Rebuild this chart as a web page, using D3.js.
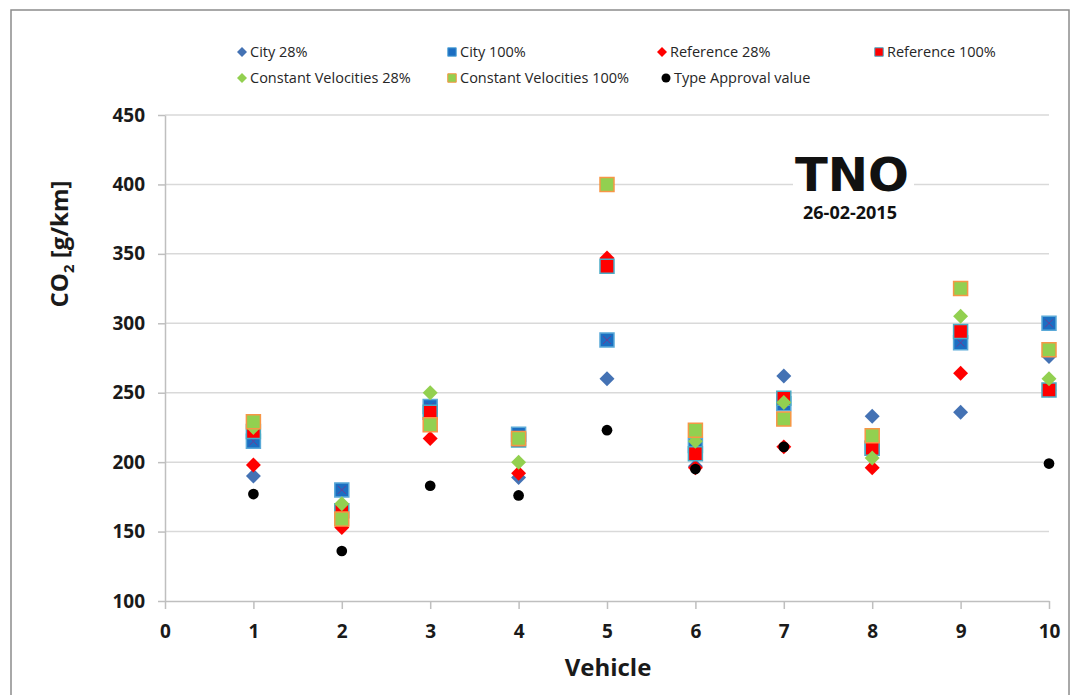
<!DOCTYPE html>
<html lang="en">
<head>
<meta charset="UTF-8">
<title>CO2 per vehicle</title>
<script src="https://cdn.jsdelivr.net/npm/d3@7"></script>
<style>
  body { margin: 0; background: #fff; }
  text { font-family: "Open Sans", sans-serif; }
</style>
</head>
<body>
<div id="chart"></div>
<script>
// values, g/km
const vehicles = [1, 2, 3, 4, 5, 6, 7, 8, 9, 10]
const city28 = [190, 167, 232, 189, 260, 197, 262, 233, 236, 276]
const city100 = [215, 180, 240, 220, 288, 212, 242, 210, 286, 300]
const reference28 = [198, 153, 217, 192, 347, 196, 211, 196, 264, 252]
const reference100 = [222, 165, 236, 216, 341, 206, 246, 210, 294, 252]
const constVel28 = [225, 170, 250, 200, 400, 215, 243, 203, 305, 260]
const constVel100 = [229, 159, 227, 217, 400, 223, 231, 219, 325, 281]
const typeApproval = [177, 136, 183, 176, 223, 195, 211, null, null, 199]

const xTicks = [0, 1, 2, 3, 4, 5, 6, 7, 8, 9, 10]
const yTicks = [100, 150, 200, 250, 300, 350, 400, 450]

const w = 1075
const h = 695
const margin = {top: 115, right: 26, bottom: 94, left: 165}

// excel style diamond: a square turned 45 degrees
const diamond = {
    draw(ctx, size) {
        const r = Math.sqrt(size / 2)
        ctx.moveTo(0, -r)
        ctx.lineTo(r, 0)
        ctx.lineTo(0, r)
        ctx.lineTo(-r, 0)
        ctx.closePath()
    }
}

const series = [
    {name: "City 28%", values: city28, shape: diamond, fill: "#4472b4", stroke: "none"},
    {name: "City 100%", values: city100, shape: d3.symbolSquare, fill: "#1b6ec2", stroke: "#5aa9d8", cross: true},
    {name: "Reference 28%", values: reference28, shape: diamond, fill: "#ff0000", stroke: "none"},
    {name: "Reference 100%", values: reference100, shape: d3.symbolSquare, fill: "#ff0000", stroke: "#4bacc6"},
    {name: "Constant Velocities 28%", values: constVel28, shape: diamond, fill: "#92d050", stroke: "none"},
    {name: "Constant Velocities 100%", values: constVel100, shape: d3.symbolSquare, fill: "#92d050", stroke: "#f79646"},
    {name: "Type Approval value", values: typeApproval, shape: d3.symbolCircle, fill: "#000000", stroke: "none"}
]

const markerSize = {diamond: 112, square: 196, circle: 90}
const legendSize = {diamond: 50, square: 72, circle: 64}
function kind(s) {
    if (s.shape === diamond) return "diamond"
    if (s.shape === d3.symbolSquare) return "square"
    return "circle"
}

const svg = d3.select("#chart")
    .append("svg")
    .attr("width", w)
    .attr("height", h)

// outer frame of the chart object
svg.append("rect")
    .attr("x", 11)
    .attr("y", 10)
    .attr("width", 1058)
    .attr("height", 720)
    .attr("fill", "#fff")
    .attr("stroke", "#8c8c8c")
    .attr("stroke-width", 1.5)

const xScale = d3.scaleLinear()
    .domain([0, 10])
    .range([margin.left, w - margin.right])

const yScale = d3.scaleLinear()
    .domain([100, 450])
    .range([h - margin.bottom, margin.top])

// gridlines
svg.append("g")
    .selectAll("line")
    .data(yTicks.filter(d => d > 100))
    .enter()
    .append("line")
    .attr("x1", xScale(0))
    .attr("x2", xScale(10))
    .attr("y1", d => yScale(d))
    .attr("y2", d => yScale(d))
    .attr("stroke", "#d9d9d9")
    .attr("stroke-width", 1.5)

const xAxis = d3.axisBottom(xScale)
    .tickValues(xTicks)
    .tickFormat(d3.format("d"))
    .tickSize(8)
    .tickSizeOuter(0)
    .tickPadding(16)

const gx = svg.append("g")
    .attr("transform", `translate(0, ${yScale(100)})`)
    .call(xAxis)

const yAxis = d3.axisLeft(yScale)
    .tickValues(yTicks)
    .tickSize(7)
    .tickSizeOuter(0)
    .tickPadding(13)

const gy = svg.append("g")
    .attr("transform", `translate(${xScale(0)}, 0)`)
    .call(yAxis)

for (const g of [gx, gy]) {
    g.select(".domain").attr("stroke", "#bfbfbf").attr("stroke-width", 1.5)
    g.selectAll(".tick line").attr("stroke", "#bfbfbf").attr("stroke-width", 1.5)
    g.selectAll(".tick text")
        .attr("fill", "#1a1a1a")
        .style("font-family", "'Open Sans', sans-serif")
        .style("font-size", "19px")
        .style("font-weight", "bold")
}

// axis titles
const yLabel = svg.append("text")
    .attr("transform", "translate(68, 244) rotate(-90)")
    .attr("text-anchor", "middle")
    .attr("fill", "#1a1a1a")
    .style("font-size", "24px")
    .style("font-weight", "bold")
yLabel.append("tspan").text("CO")
yLabel.append("tspan").attr("dy", 6).style("font-size", "15px").text("2")
yLabel.append("tspan").attr("dy", -6).text(" [g/km]")

svg.append("text")
    .attr("x", 608)
    .attr("y", 676)
    .attr("text-anchor", "middle")
    .attr("fill", "#1a1a1a")
    .style("font-size", "24px")
    .style("font-weight", "bold")
    .text("Vehicle")

// TNO stamp, white box breaks the 400 gridline
svg.append("rect")
    .attr("x", 793)
    .attr("y", 150)
    .attr("width", 121)
    .attr("height", 46)
    .attr("fill", "#fff")

svg.append("text")
    .attr("x", 795)
    .attr("y", 191)
    .attr("textLength", 114)
    .attr("lengthAdjust", "spacingAndGlyphs")
    .attr("fill", "#111")
    .style("font-family", "'DejaVu Sans', sans-serif")
    .style("font-size", "46px")
    .style("font-weight", "bold")
    .text("TNO")

svg.append("text")
    .attr("x", 850)
    .attr("y", 219)
    .attr("text-anchor", "middle")
    .attr("fill", "#111")
    .style("font-size", "18px")
    .style("font-weight", "bold")
    .text("26-02-2015")

// points, series in excel order so later ones sit on top
series.forEach(s => {
    const pts = vehicles
        .map((v, i) => ({x: v, y: s.values[i]}))
        .filter(d => d.y != null)

    const g = svg.append("g").attr("class", "series")
    g.selectAll("path.mark")
        .data(pts)
        .enter()
        .append("path")
        .attr("class", "mark")
        .attr("transform", d => `translate(${xScale(d.x)}, ${yScale(d.y)})`)
        .attr("d", d3.symbol().type(s.shape).size(markerSize[kind(s)]))
        .attr("fill", s.fill)
        .attr("stroke", s.stroke)
        .attr("stroke-width", 1.5)

    if (s.cross) {
        g.selectAll("path.cross")
            .data(pts)
            .enter()
            .append("path")
            .attr("class", "cross")
            .attr("transform", d => `translate(${xScale(d.x)}, ${yScale(d.y)})`)
            .attr("d", "M-4,-4L4,4M-4,4L4,-4")
            .attr("stroke", "#6b3d96")
            .attr("stroke-width", 1)
            .attr("fill", "none")
    }
})

// legend
const legendCols = [242, 452, 662, 879]
const legendRows = [52, 78]
const legendPos = [[0, 0], [1, 0], [2, 0], [3, 0], [0, 1], [1, 1], [2, 1]]

const legend = svg.append("g")
series.forEach((s, i) => {
    const [c, r] = legendPos[i]
    const mx = legendCols[c] + (kind(s) === "circle" ? 4 : 0)
    const my = legendRows[r]
    legend.append("path")
        .attr("transform", `translate(${mx}, ${my})`)
        .attr("d", d3.symbol().type(s.shape).size(legendSize[kind(s)]))
        .attr("fill", s.fill)
        .attr("stroke", s.stroke)
        .attr("stroke-width", 1)
    legend.append("text")
        .attr("x", mx + 8)
        .attr("y", my + 5)
        .attr("fill", "#262626")
        .style("font-size", "14.5px")
        .text(s.name)
})
</script>
</body>
</html>
